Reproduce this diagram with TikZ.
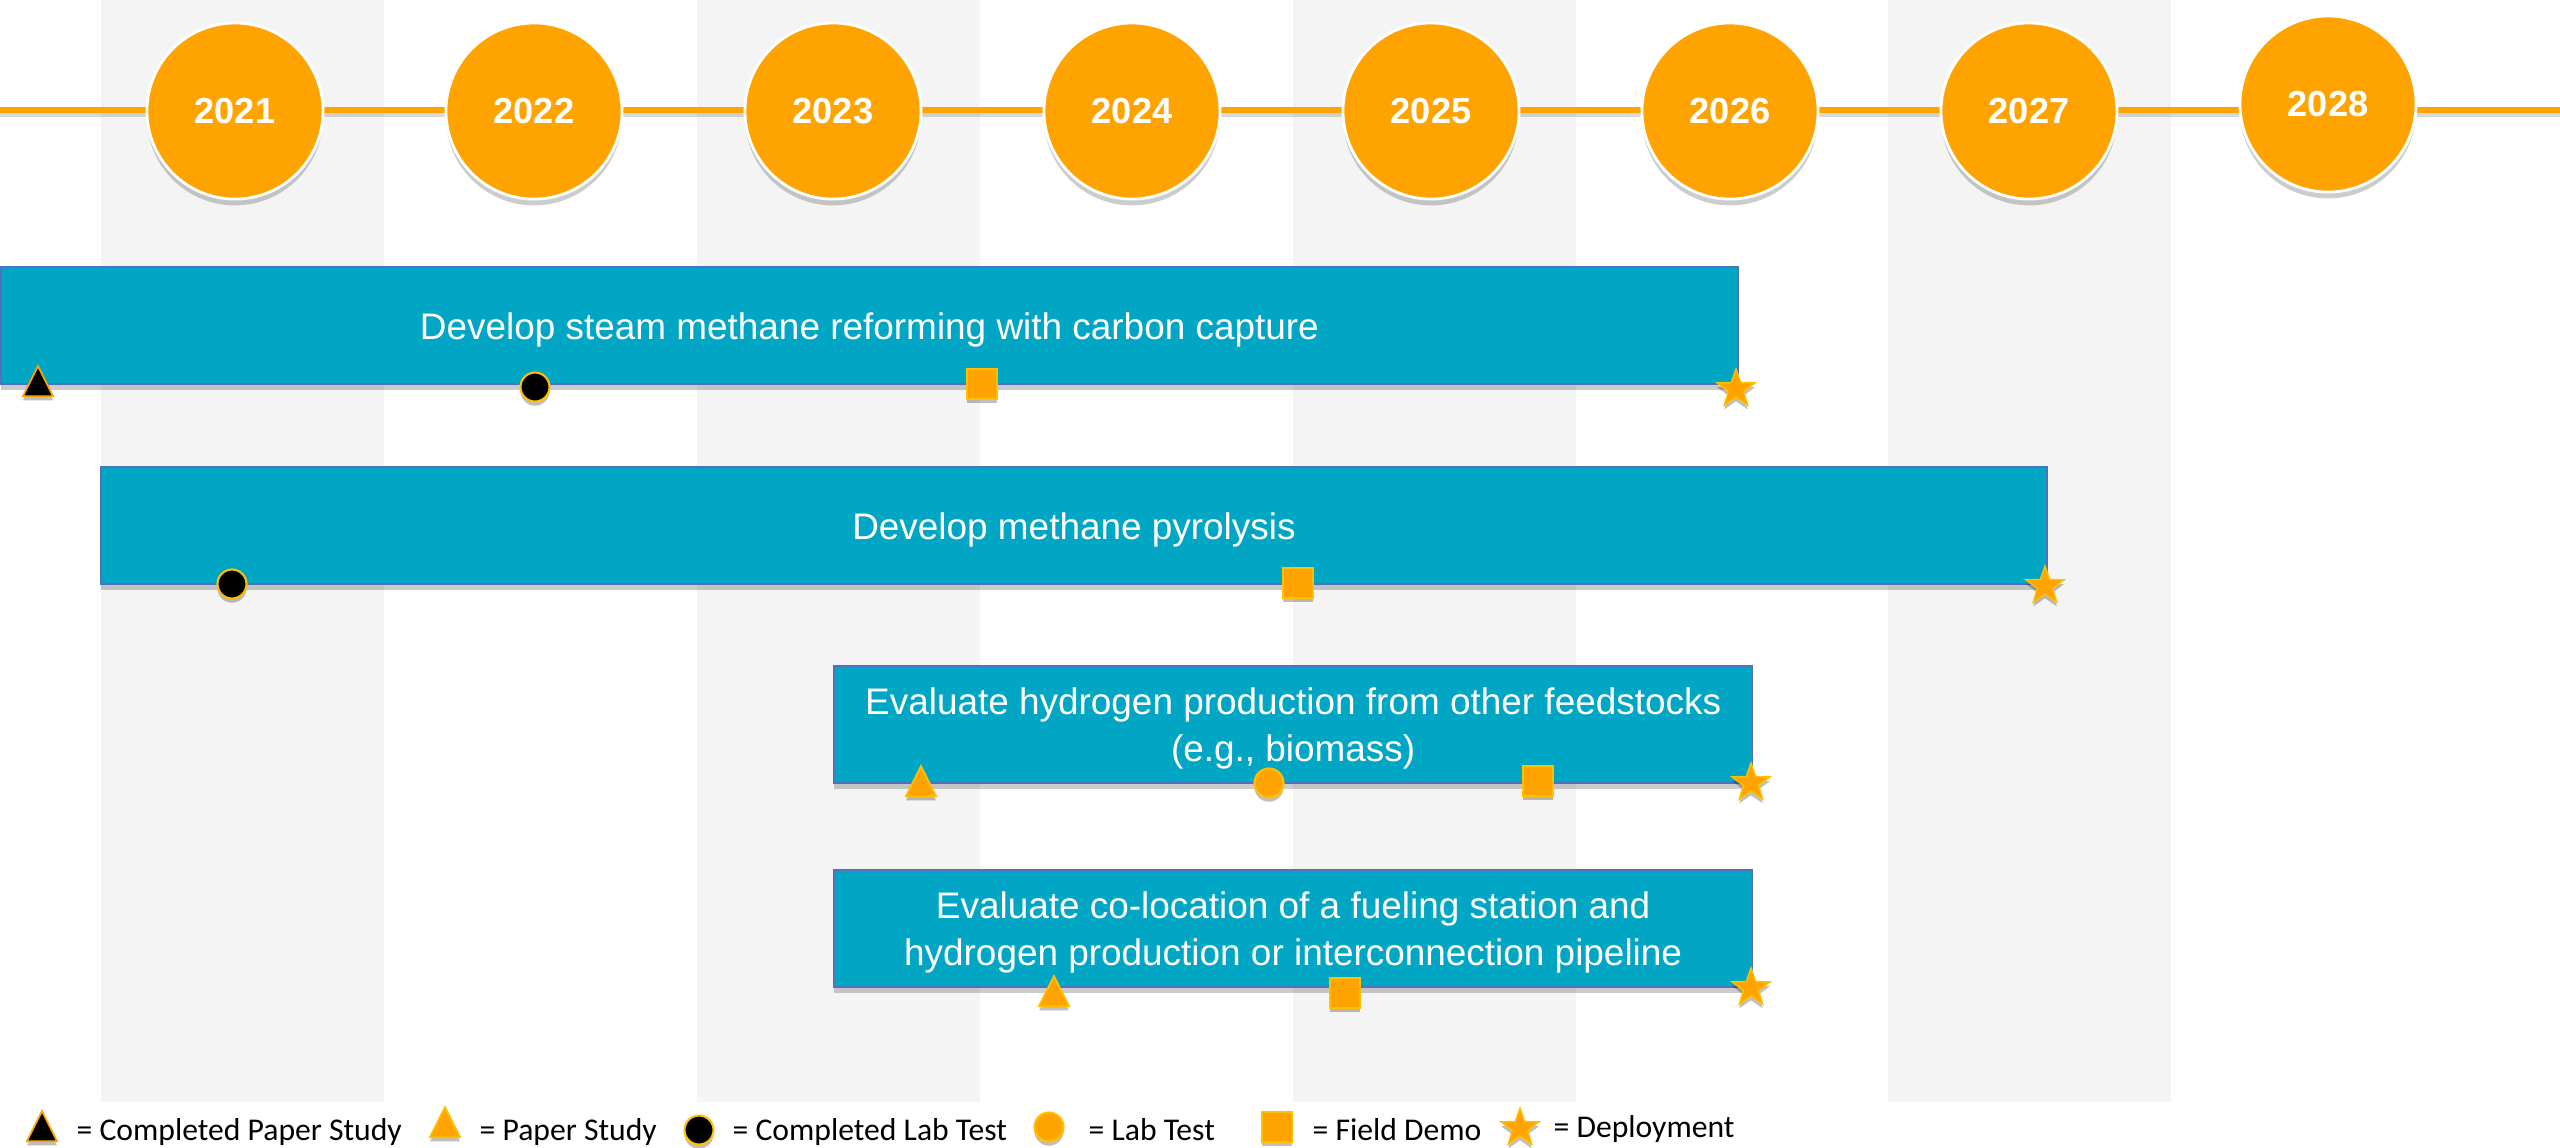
\documentclass[tikz,border=0pt]{standalone}
\usepackage{fontspec}
\setmainfont{Liberation Sans}
\newfontfamily\legendfont{Carlito}
\usetikzlibrary{shapes.geometric,shadows}
\definecolor{tlorange}{RGB}{255,163,0}
\definecolor{tlteal}{RGB}{0,166,196}
\definecolor{tledge}{RGB}{79,114,189}
\definecolor{tlgold}{RGB}{255,192,0}
\definecolor{tlshade}{RGB}{244,244,244}
\begin{document}
\begin{tikzpicture}[x=0.01cm, y=-0.01cm,
    yearball/.style={circle, fill=tlorange, draw=white, line width=0.8pt, minimum size=1.76cm, inner sep=0pt,
      text=white, font=\bfseries\fontsize{10.3pt}{12pt}\selectfont,
      drop shadow={shadow xshift=0pt, shadow yshift=-1.8pt, opacity=0.2, fill=black}},
    task/.style={rectangle, fill=tlteal, draw=tledge, line width=0.5pt, minimum height=1.17cm, anchor=north west,
      drop shadow={shadow xshift=0pt, shadow yshift=-1.6pt, opacity=0.2, fill=black}},
    tasktext/.style={text=white, align=center, inner sep=0pt, font=\fontsize{10.5pt}{13.2pt}\selectfont},
    milestone/.style={inner sep=0pt, drop shadow={shadow xshift=0pt, shadow yshift=-1.2pt, opacity=0.25, fill=black}},
    paper/.style={milestone, isosceles triangle, isosceles triangle stretches, shape border rotate=90,
      minimum width=0.30cm, minimum height=0.30cm, anchor=south, draw=tlorange, line width=0.5pt},
    labtest/.style={milestone, circle, minimum size=0.29cm, draw=tlgold, line width=0.6pt},
    demo/.style={milestone, rectangle, minimum size=0.30cm, fill=tlorange, draw=tlgold, line width=0.5pt},
    deploy/.style={milestone, star, star points=5, star point ratio=2.5, minimum size=0.40cm, fill=tlorange,
      draw=tlgold, line width=0.4pt},
    legend/.style={anchor=base west, inner sep=0pt, font=\legendfont\fontsize{9pt}{11pt}\selectfont}
  ]
  \useasboundingbox (0,0) rectangle (2560,1147);

  % shaded year columns
  \foreach \cx in {101,697,1293,1888}
    \fill[tlshade] (\cx,0) rectangle ++(283,1102);

  % time line
  \coordinate (lstart) at (0,110);
  \coordinate (lend) at (2560,110);
  \draw[line width=1.7pt, black, opacity=0.15] ([yshift=-1.2pt]lstart) -- ([yshift=-1.2pt]lend);
  \draw[line width=1.7pt, tlorange] (lstart) -- (lend);

  \foreach \yr [count=\i from 0] in {2021,2022,2023,2024,2025,2026,2027}
    \node[yearball] (y\yr) at (235+299*\i,111) {\yr};
  \node[yearball] (y2028) at (2328,104) {2028};

  % tasks
  \node[task, minimum width=17.36cm] (b1) at (0,266) {};
  \node[task, minimum width=19.45cm] (b2) at (100,466) {};
  \node[task, minimum width=9.18cm] (b3) at (833,665) {};
  \node[task, minimum width=9.18cm] (b4) at (833,869) {};
  \node[tasktext] (b1t) at ([yshift=-1.2pt]b1.center) {Develop steam methane reforming with carbon capture};
  \node[tasktext] (b2t) at ([yshift=-1.2pt]b2.center) {Develop methane pyrolysis};
  \node[tasktext] (b3t) at ([yshift=-1.2pt]b3.center) {Evaluate hydrogen production from other feedstocks\\(e.g., biomass)};
  \node[tasktext] (b4t) at ([yshift=-1.2pt]b4.center) {Evaluate co-location of a fueling station and\\hydrogen production or interconnection pipeline};

  % milestones
  \node[paper, fill=black] (b1p) at (38,397) {};
  \node[labtest, fill=black] (b1l) at (535,387) {};
  \node[demo] (b1f) at (982,384) {};
  \node[deploy] (b1d) at (1736,389) {};

  \node[labtest, fill=black] (b2l) at (232,584) {};
  \node[demo] (b2f) at (1298,583) {};
  \node[deploy] (b2d) at (2045,586) {};

  \node[paper, fill=tlorange, draw=tlgold] (b3p) at (921,797) {};
  \node[labtest, fill=tlorange] (b3l) at (1269,783) {};
  \node[demo] (b3f) at (1538,781) {};
  \node[deploy] (b3d) at (1751,783) {};

  \node[paper, fill=tlorange, draw=tlgold] (b4p) at (1054,1007) {};
  \node[demo] (b4f) at (1345,993) {};
  \node[deploy] (b4d) at (1751,988) {};

  % legend
  \node[paper, fill=black] (k1) at (42,1142) {};
  \node[legend] (k1t) at (76,1140) {= Completed Paper Study};
  \node[paper, fill=tlorange, draw=tlgold] (k2) at (445,1138) {};
  \node[legend] (k2t) at (479,1140) {= Paper Study};
  \node[labtest, fill=black] (k3) at (699,1130) {};
  \node[legend] (k3t) at (732,1140) {= Completed Lab Test};
  \node[labtest, fill=tlorange] (k4) at (1049,1127) {};
  \node[legend] (k4t) at (1088,1140) {= Lab Test};
  \node[demo] (k5) at (1277,1127) {};
  \node[legend] (k5t) at (1312,1140) {= Field Demo};
  \node[deploy] (k6) at (1520,1128) {};
  \node[legend] (k6t) at (1553,1137) {= Deployment};
\end{tikzpicture}
\end{document}
